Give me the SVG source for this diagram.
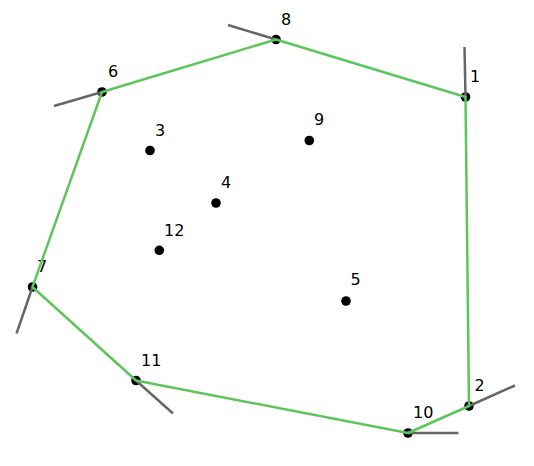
<svg xmlns="http://www.w3.org/2000/svg" width="534" height="466" viewBox="0 0 534 466">
<style>
.dot{fill:#000}
.lbl{font-family:"DejaVu Sans",sans-serif;font-size:16px;fill:#000}
.hull{fill:none;stroke:#5cc65c;stroke-width:2.5;stroke-linejoin:round}
.ray{stroke:#666;stroke-width:2.5;stroke-linecap:butt}
</style>
<rect width="534" height="466" fill="#fff"/>
<g id="nodes">
<g id="node1"><circle class="dot" cx="465.5" cy="97" r="4.8"/><text class="lbl" x="470" y="82">1</text></g>
<g id="node2"><circle class="dot" cx="469" cy="406" r="4.8"/><text class="lbl" x="474.5" y="391">2</text></g>
<g id="node3"><circle class="dot" cx="150" cy="150.5" r="4.8"/><text class="lbl" x="155" y="136">3</text></g>
<g id="node4"><circle class="dot" cx="216" cy="203" r="4.8"/><text class="lbl" x="221" y="188">4</text></g>
<g id="node5"><circle class="dot" cx="346" cy="301" r="4.8"/><text class="lbl" x="350.5" y="285">5</text></g>
<g id="node6"><circle class="dot" cx="102" cy="92" r="4.8"/><text class="lbl" x="108" y="77">6</text></g>
<g id="node7"><circle class="dot" cx="32.5" cy="287" r="4.8"/><text class="lbl" x="37" y="272">7</text></g>
<g id="node8"><circle class="dot" cx="276" cy="39.5" r="4.8"/><text class="lbl" x="281" y="25">8</text></g>
<g id="node9"><circle class="dot" cx="309.3" cy="140.5" r="4.8"/><text class="lbl" x="314" y="125">9</text></g>
<g id="node10"><circle class="dot" cx="408" cy="433" r="4.8"/><text class="lbl" x="413" y="418">10</text></g>
<g id="node11"><circle class="dot" cx="136" cy="380.5" r="4.8"/><text class="lbl" x="141" y="366">11</text></g>
<g id="node12"><circle class="dot" cx="159.3" cy="250.3" r="4.8"/><text class="lbl" x="164" y="236">12</text></g>
</g>
<g id="connectors">
<line class="ray" x1="465.5" y1="97" x2="464.5" y2="47"/>
<line class="ray" x1="469" y1="406" x2="515" y2="385.5"/>
<line class="ray" x1="408" y1="433" x2="458.5" y2="433"/>
<line class="ray" x1="136" y1="380.5" x2="173" y2="413.5"/>
<line class="ray" x1="32.5" y1="287" x2="16.5" y2="333.5"/>
<line class="ray" x1="102" y1="92" x2="54" y2="106"/>
<line class="ray" x1="276" y1="39.5" x2="228" y2="25"/>
<polygon class="hull" points="276,39.5 465.5,97 469,406 408,433 136,380.5 32.5,287 102,92"/>
</g>
</svg>
